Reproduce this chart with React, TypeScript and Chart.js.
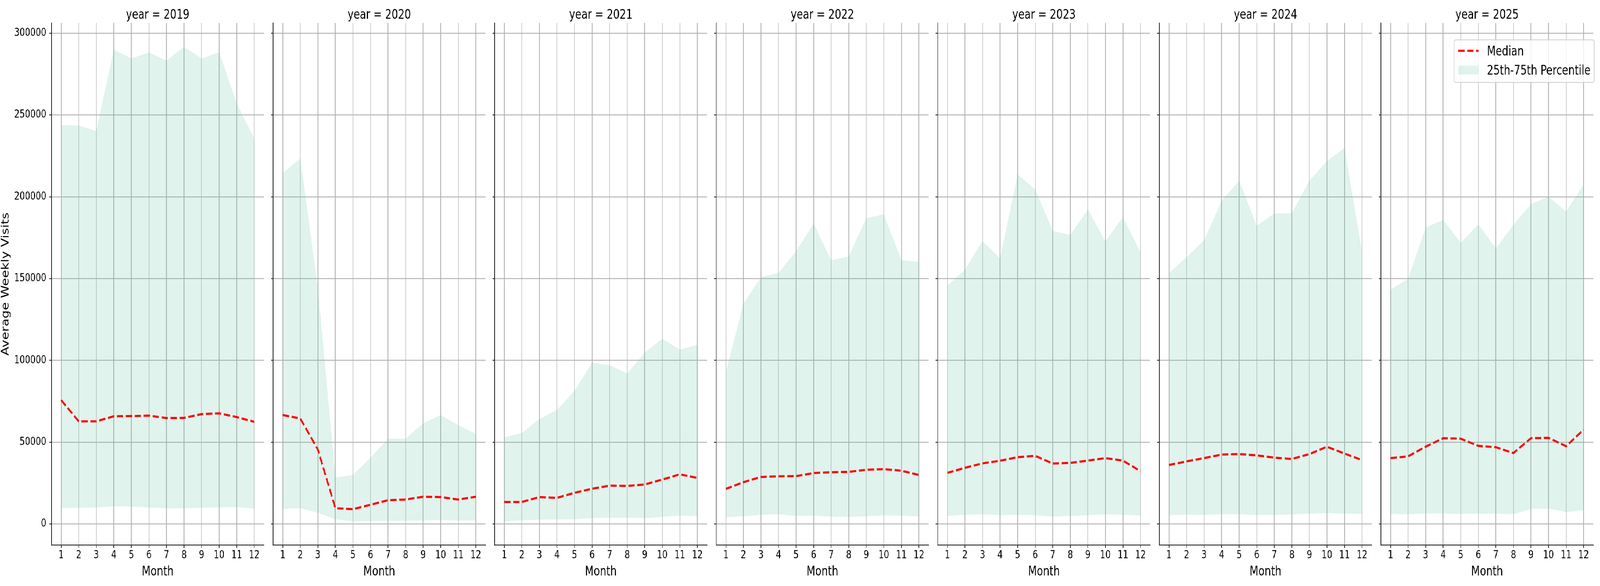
import React, { useEffect, useRef } from "react";
import { Chart, registerables } from "chart.js";

Chart.register(...registerables);

// ---------------- data ----------------
const months = [1, 2, 3, 4, 5, 6, 7, 8, 9, 10, 11, 12];
const years = [2019, 2020, 2021, 2022, 2023, 2024, 2025];
const yTickValues = [0, 50000, 100000, 150000, 200000, 250000, 300000];

const median2019 = [75700, 62700, 62700, 65800, 65900, 66200, 64700, 64800, 67100, 67600, 65300, 62400];
const p25_2019 = [9630, 9870, 10100, 10820, 10580, 10030, 9560, 9560, 9870, 10100, 10350, 9320];
const p75_2019 = [243900, 243500, 240200, 289900, 284500, 288200, 283200, 291700, 284500, 288300, 257100, 235600];

const median2020 = [66600, 64400, 45500, 9600, 9000, 11700, 14500, 14900, 16600, 16400, 14900, 16600];
const p25_2020 = [9200, 9600, 6800, 2800, 1500, 1700, 1900, 1900, 2100, 2350, 2100, 2100];
const p75_2020 = [214500, 223400, 145000, 28400, 29900, 40500, 52100, 52100, 61500, 66600, 60400, 55100];

const median2021 = [13400, 13400, 16400, 15900, 19000, 21500, 23400, 23200, 24100, 27100, 30300, 28100];
const p25_2021 = [1560, 2200, 2560, 2750, 2840, 3480, 3750, 3850, 3480, 4300, 5040, 4670];
const p75_2021 = [52900, 55600, 64100, 69700, 81300, 98500, 97000, 91900, 104700, 113200, 106500, 109500];

const median2022 = [21400, 25500, 28700, 29100, 29200, 31100, 31600, 31800, 33100, 33500, 32500, 29900];
const p25_2022 = [4000, 4660, 5500, 5900, 4940, 5080, 4390, 4250, 4660, 5210, 5080, 4530];
const p75_2022 = [93000, 134500, 150900, 153400, 166700, 183600, 161200, 163500, 186900, 189300, 161100, 160200];

const median2023 = [31200, 34300, 37000, 38600, 40800, 41600, 36900, 37300, 38700, 40200, 38700, 32200];
const p25_2023 = [4900, 5640, 5790, 5330, 5490, 5180, 4420, 4880, 5330, 5790, 5640, 5030];
const p75_2023 = [145600, 155400, 173000, 162300, 213700, 204500, 179100, 176600, 192200, 172700, 187500, 166100];

const median2024 = [36000, 38200, 40200, 42400, 42700, 41900, 40500, 39700, 42700, 47200, 43000, 39000];
const p25_2024 = [5300, 5600, 5440, 5920, 5920, 5440, 5440, 5760, 6240, 6720, 6240, 6240];
const p75_2024 = [153400, 163000, 173400, 197400, 209800, 182200, 189800, 189800, 209800, 221800, 229800, 166200];

const median2025 = [40200, 41300, 47200, 52400, 52100, 47700, 46900, 43300, 52400, 52600, 47500, 57600];
const p25_2025 = [6100, 5800, 6400, 6400, 6100, 6250, 6250, 5950, 9100, 9450, 7160, 8380];
const p75_2025 = [143100, 149800, 181100, 185900, 171800, 183200, 168400, 182900, 195500, 200000, 191000, 207300];

const medians = [median2019, median2020, median2021, median2022, median2023, median2024, median2025];
const p25s = [p25_2019, p25_2020, p25_2021, p25_2022, p25_2023, p25_2024, p25_2025];
const p75s = [p75_2019, p75_2020, p75_2021, p75_2022, p75_2023, p75_2024, p75_2025];

// ---------------- layout / style ----------------
const FIG_W = 5250;
const FIG_H = 1500;
const FONT = '"DejaVu Sans", "Liberation Sans", sans-serif';
const PANEL_LEFT0 = 169;
const PANEL_STEP = 727;
const PANEL_W = 697;
const AREA_TOP = 58.7;
const AREA_BOTTOM = 1395.5;
const CANVAS_H = FIG_H;
const PAD_R = 25;
const Y_MIN = -13000;
const Y_MAX = 306250;
const X_MIN = 0.45;
const X_MAX = 12.55;
const TICK_FONT = 27.6;
const LABEL_FONT = 33.3;
const SPINE = "#262626";
const GRID = "#b0b0b0";
const FILL = "rgba(102,194,165,0.2)";
const RED = "#ff0000";

function padLeft(i: number) {
  return i === 0 ? PANEL_LEFT0 : 29;
}

function Panel({ index }: { index: number }) {
  const ref = useRef<HTMLCanvasElement | null>(null);
  const pl = padLeft(index);
  const chartLeft = PANEL_LEFT0 + index * PANEL_STEP;
  const canvasLeft = chartLeft - pl;
  const canvasW = pl + PANEL_W + PAD_R;

  useEffect(() => {
    if (!ref.current) return;
    const toPts = (arr: number[]) => months.map((m, k) => ({ x: m, y: arr[k] }));

    const textPlugin = {
      id: "panelText" + index,
      afterDraw(chart: any) {
        const ctx = chart.ctx as CanvasRenderingContext2D;
        const ca = chart.chartArea;
        const cx = (ca.left + ca.right) / 2;
        ctx.save();
        ctx.fillStyle = "#000";
        ctx.font = `${LABEL_FONT}px ${FONT}`;
        ctx.textAlign = "center";
        ctx.textBaseline = "alphabetic";
        ctx.fillText(`year = ${years[index]}`, cx, 47.7);
        ctx.fillText("Month", cx, 1472.5);
        if (index === 0) {
          ctx.save();
          ctx.translate(28.3, (AREA_TOP + AREA_BOTTOM) / 2);
          ctx.rotate(-Math.PI / 2);
          ctx.fillText("Average Weekly Visits", 0, 0);
          ctx.restore();
        }
        if (index === years.length - 1) {
          const ox = canvasLeft;
          const bx = 4771 - ox;
          const by = 102;
          const bw = 460;
          const bh = 109;
          const r = 7;
          ctx.beginPath();
          ctx.moveTo(bx + r, by);
          ctx.lineTo(bx + bw - r, by);
          ctx.quadraticCurveTo(bx + bw, by, bx + bw, by + r);
          ctx.lineTo(bx + bw, by + bh - r);
          ctx.quadraticCurveTo(bx + bw, by + bh, bx + bw - r, by + bh);
          ctx.lineTo(bx + r, by + bh);
          ctx.quadraticCurveTo(bx, by + bh, bx, by + bh - r);
          ctx.lineTo(bx, by + r);
          ctx.quadraticCurveTo(bx, by, bx + r, by);
          ctx.closePath();
          ctx.fillStyle = "rgba(255,255,255,0.8)";
          ctx.fill();
          ctx.strokeStyle = "rgba(204,204,204,0.8)";
          ctx.lineWidth = 2.5;
          ctx.stroke();

          ctx.beginPath();
          ctx.setLineDash([20.5, 8.9]);
          ctx.lineCap = "butt";
          ctx.strokeStyle = RED;
          ctx.lineWidth = 5.5;
          ctx.moveTo(4785 - ox, 130);
          ctx.lineTo(4852 - ox, 130);
          ctx.stroke();
          ctx.setLineDash([]);

          ctx.fillStyle = FILL;
          ctx.fillRect(4785 - ox, 168.3, 67, 22.4);

          ctx.fillStyle = "#000";
          ctx.textAlign = "left";
          ctx.fillText("Median", 4879 - ox, 141.7);
          ctx.fillText("25th-75th Percentile", 4879 - ox, 190.7);
        }
        ctx.restore();
      },
    };

    const chart = new Chart(ref.current, {
      type: "line",
      data: {
        datasets: [
          {
            label: "Median",
            data: toPts(medians[index]),
            borderColor: RED,
            borderWidth: 5.5,
            borderDash: [20.5, 8.9],
            borderCapStyle: "butt",
            pointRadius: 0,
            fill: false,
            tension: 0,
          },
          {
            label: "25th Percentile",
            data: toPts(p25s[index]),
            borderColor: "rgba(0,0,0,0)",
            borderWidth: 0,
            pointRadius: 0,
            fill: false,
            tension: 0,
          },
          {
            label: "25th-75th Percentile",
            data: toPts(p75s[index]),
            borderColor: "rgba(0,0,0,0)",
            backgroundColor: FILL,
            borderWidth: 0,
            pointRadius: 0,
            fill: "-1",
            tension: 0,
          },
        ],
      },
      options: {
        animation: false,
        responsive: false,
        devicePixelRatio: 1,
        events: [],
        layout: {
          padding: {
            left: 0,
            right: PAD_R,
            top: AREA_TOP,
            bottom: 0,
          },
        },
        plugins: {
          legend: { display: false },
          tooltip: { enabled: false },
          title: { display: false },
        },
        scales: {
          x: {
            type: "linear",
            min: X_MIN,
            max: X_MAX,
            afterBuildTicks: (axis: any) => {
              axis.ticks = months.map((m) => ({ value: m }));
            },
            afterFit: (axis: any) => {
              axis.height = CANVAS_H - AREA_BOTTOM;
              axis.paddingLeft = 0;
              axis.paddingRight = 0;
            },
            ticks: {
              autoSkip: false,
              maxRotation: 0,
              minRotation: 0,
              padding: 3,
              color: "#000",
              font: { family: FONT, size: TICK_FONT },
              callback: (v: any) => String(v),
            },
            grid: {
              color: GRID,
              lineWidth: 2.2,
              drawTicks: true,
              tickLength: 7,
              tickColor: SPINE,
              tickWidth: 2.2,
            },
            border: { display: true, color: SPINE, width: 2.2 },
          },
          y: {
            type: "linear",
            min: Y_MIN,
            max: Y_MAX,
            afterBuildTicks: (axis: any) => {
              axis.ticks = yTickValues.map((v) => ({ value: v }));
            },
            afterFit: (axis: any) => {
              axis.width = pl;
              axis.paddingTop = 0;
              axis.paddingBottom = 0;
            },
            ticks: {
              padding: 10,
              color: "#000",
              font: { family: FONT, size: TICK_FONT },
              callback: (v: any) => (index === 0 ? String(v) : ""),
            },
            grid: {
              color: GRID,
              lineWidth: 2.2,
              drawTicks: true,
              tickLength: 7,
              tickColor: SPINE,
              tickWidth: 2.2,
            },
            border: { display: true, color: SPINE, width: 2.2 },
          },
        },
      },
      plugins: [textPlugin],
    } as any);

    return () => chart.destroy();
  }, [index]);

  return (
    <canvas
      ref={ref}
      width={canvasW}
      height={CANVAS_H}
      style={{
        position: "absolute",
        left: canvasLeft,
        top: 0,
        width: canvasW,
        height: CANVAS_H,
      }}
    />
  );
}

export default function App() {
  // The figure is laid out at 5250 x 1500; if the viewport is narrower than
  // that, squeeze it horizontally so the whole figure fits the window.
  const vw = typeof window !== "undefined" ? window.innerWidth : FIG_W;
  const sx = vw > 0 && vw < FIG_W ? vw / FIG_W : 1;
  return (
    <div
      style={{
        position: "fixed",
        left: 0,
        top: 0,
        width: FIG_W,
        height: FIG_H,
        background: "#ffffff",
        overflow: "hidden",
        transform: `scaleX(${sx})`,
        transformOrigin: "0 0",
      }}
    >
      {years.map((y, i) => (
        <Panel key={y} index={i} />
      ))}
    </div>
  );
}
